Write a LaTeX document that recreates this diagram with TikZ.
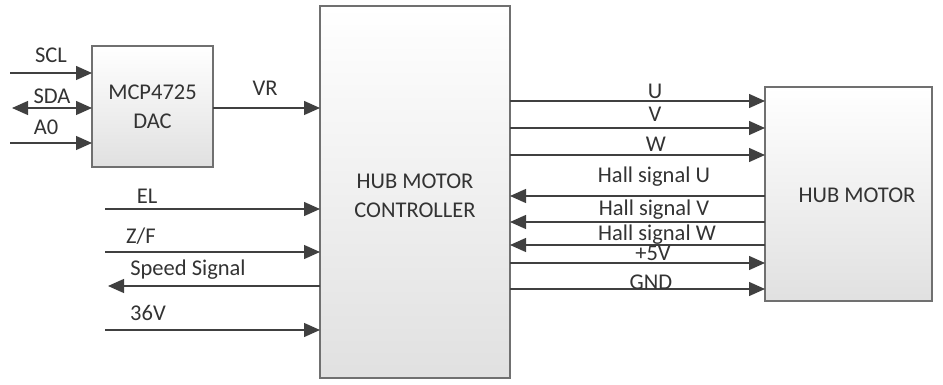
\documentclass[tikz,border=0pt]{standalone}
\usepackage{fontspec}
\setmainfont{Carlito}
\usetikzlibrary{arrows.meta}
\definecolor{ln}{HTML}{404040}
\definecolor{bx}{HTML}{707070}
\begin{document}
\begin{tikzpicture}[x=1pt,y=-1pt,
  blk/.style={draw=bx,line width=1.2pt,top color=white,bottom color=black!12,inner sep=0pt},
  sig/.style={draw=ln,line width=1.3pt,-{Triangle[length=16pt,width=14pt]}},
  bsig/.style={draw=ln,line width=1.3pt,{Triangle[length=16pt,width=14pt]}-{Triangle[length=16pt,width=14pt]}},
  lbl/.style={font=\fontsize{22.5}{27}\selectfont,text=black!80,inner sep=0pt}]
\useasboundingbox (0,0) rectangle (943,385);
% blocks
\path[blk] (92,46) rectangle (213,167);
\node[lbl,align=center] (dac) at (152.5,107) {MCP4725\\[2pt]DAC};
\path[blk] (320,6) rectangle (510,378);
\node[lbl,align=center] (ctl) at (415,196) {HUB MOTOR\\[2pt]CONTROLLER};
\path[blk] (765,87) rectangle (932,301);
\node[lbl] (mot) at (857,195) {HUB MOTOR};
% coordinates
\coordinate (scl0) at (10,73);   \coordinate (scl1) at (92,73);
\coordinate (sda0) at (12,108);  \coordinate (sda1) at (92,108);
\coordinate (a00) at (10,143);   \coordinate (a01) at (92,143);
\coordinate (vr0) at (213,108);  \coordinate (vr1) at (320,108);
\coordinate (el0) at (105,209);  \coordinate (el1) at (320,209);
\coordinate (zf0) at (105,252);  \coordinate (zf1) at (320,252);
\coordinate (sp0) at (108,286);  \coordinate (sp1) at (320,286);
\coordinate (v360) at (105,330); \coordinate (v361) at (320,330);
\foreach \n/\y in {u/101,v/128,w/155,p5/263,gnd/289}{
  \coordinate (\n0) at (510,\y); \coordinate (\n1) at (765,\y);}
\foreach \n/\y in {hu/196,hv/222,hw/245}{
  \coordinate (\n0) at (510,\y); \coordinate (\n1) at (765,\y);}
% left side
\draw[sig] (scl0) -- (scl1);
\draw[bsig] (sda0) -- (sda1);
\draw[sig] (a00) -- (a01);
\draw[sig] (vr0) -- (vr1);
\draw[sig] (el0) -- (el1);
\draw[sig] (zf0) -- (zf1);
\draw[sig] (sp1) -- (sp0);
\draw[sig] (v360) -- (v361);
% right side
\foreach \n in {u,v,w,p5,gnd}{\draw[sig] (\n0) -- (\n1);}
\foreach \n in {hu,hv,hw}{\draw[sig] (\n1) -- (\n0);}
% labels
\node[lbl] at (51,55) {SCL};
\node[lbl] at (52,96) {SDA};
\node[lbl] at (46,127) {A0};
\node[lbl] at (265,88) {VR};
\node[lbl] at (147,196) {EL};
\node[lbl] at (141,236) {Z/F};
\node[lbl] at (188,270) {Speed Signal};
\node[lbl] at (148,313) {36V};
\node[lbl] at (655,91) {U};
\node[lbl] at (655,114) {V};
\node[lbl] at (656,144) {W};
\node[lbl] at (654,177) {Hall signal U};
\node[lbl] at (654,210) {Hall signal V};
\node[lbl] at (657,235) {Hall signal W};
\node[lbl] at (653,253) {+5V};
\node[lbl] at (651,282) {GND};
\end{tikzpicture}
\end{document}
